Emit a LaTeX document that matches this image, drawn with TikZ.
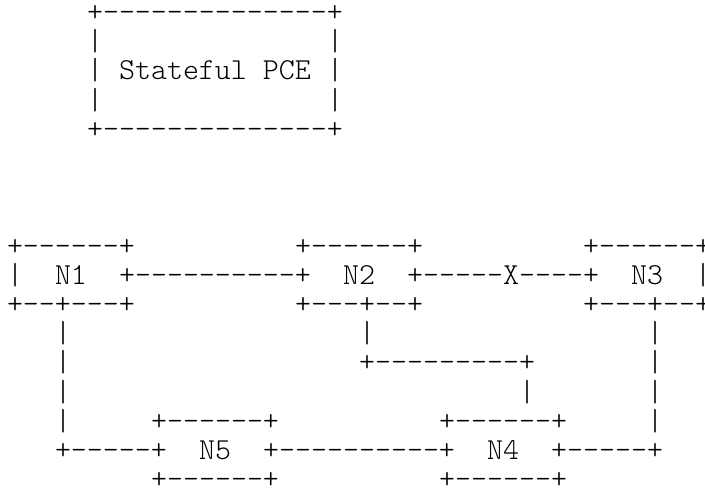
\documentclass[tikz,border=0pt]{standalone}
\usepackage{fontspec}
\setmonofont{Latin Modern Mono Light}
\tikzset{asc/.style={anchor=base west,inner sep=0pt,outer sep=0pt,
  font=\fontsize{30.476pt}{29.2pt}\selectfont\ttfamily,text=black}}
\newcommand\asc[4]{\node[asc] (#1) at ({7+16*#2},{-21.5-29.2*#3}) {#4};}
\begin{document}
\begin{tikzpicture}[x=1pt,y=1pt]
\useasboundingbox[fill=white] (0,0) rectangle (705,-496);
% Stateful PCE box
\asc{pceT}{5}{0}{+--------------+}
\asc{pceL1}{5}{1}{|}\asc{pceR1}{20}{1}{|}
\asc{pceL2}{5}{2}{|}\asc{pce}{7}{2}{Stateful PCE}\asc{pceR2}{20}{2}{|}
\asc{pceL3}{5}{3}{|}\asc{pceR3}{20}{3}{|}
\asc{pceB}{5}{4}{+--------------+}
% node boxes, top row
\asc{n1T}{0}{8}{+------+}
\asc{n2T}{18}{8}{+------+}
\asc{n3T}{36}{8}{+------+}
\asc{n1L}{0}{9}{|}
\asc{n1}{3}{9}{N1}
\asc{l12}{7}{9}{+----------+}
\asc{n2}{21}{9}{N2}
\asc{l23}{25}{9}{+-----X----+}
\asc{n3}{39}{9}{N3}
\asc{n3R}{43}{9}{|}
\asc{n1B}{0}{10}{+--+---+}
\asc{n2B}{18}{10}{+---+--+}
\asc{n3B}{36}{10}{+---+--+}
% vertical links
\asc{v1a}{3}{11}{|}\asc{v2a}{22}{11}{|}\asc{v3a}{40}{11}{|}
\asc{v1b}{3}{12}{|}\asc{l24}{22}{12}{+---------+}\asc{v3b}{40}{12}{|}
\asc{v1c}{3}{13}{|}\asc{v4a}{32}{13}{|}\asc{v3c}{40}{13}{|}
\asc{v1d}{3}{14}{|}\asc{n5T}{9}{14}{+------+}\asc{n4T}{27}{14}{+------+}\asc{v3d}{40}{14}{|}
% bottom row
\asc{l15}{3}{15}{+-----+}
\asc{n5}{12}{15}{N5}
\asc{l54}{16}{15}{+----------+}
\asc{n4}{30}{15}{N4}
\asc{l43}{34}{15}{+-----+}
\asc{n5B}{9}{16}{+------+}
\asc{n4B}{27}{16}{+------+}
\end{tikzpicture}
\end{document}
